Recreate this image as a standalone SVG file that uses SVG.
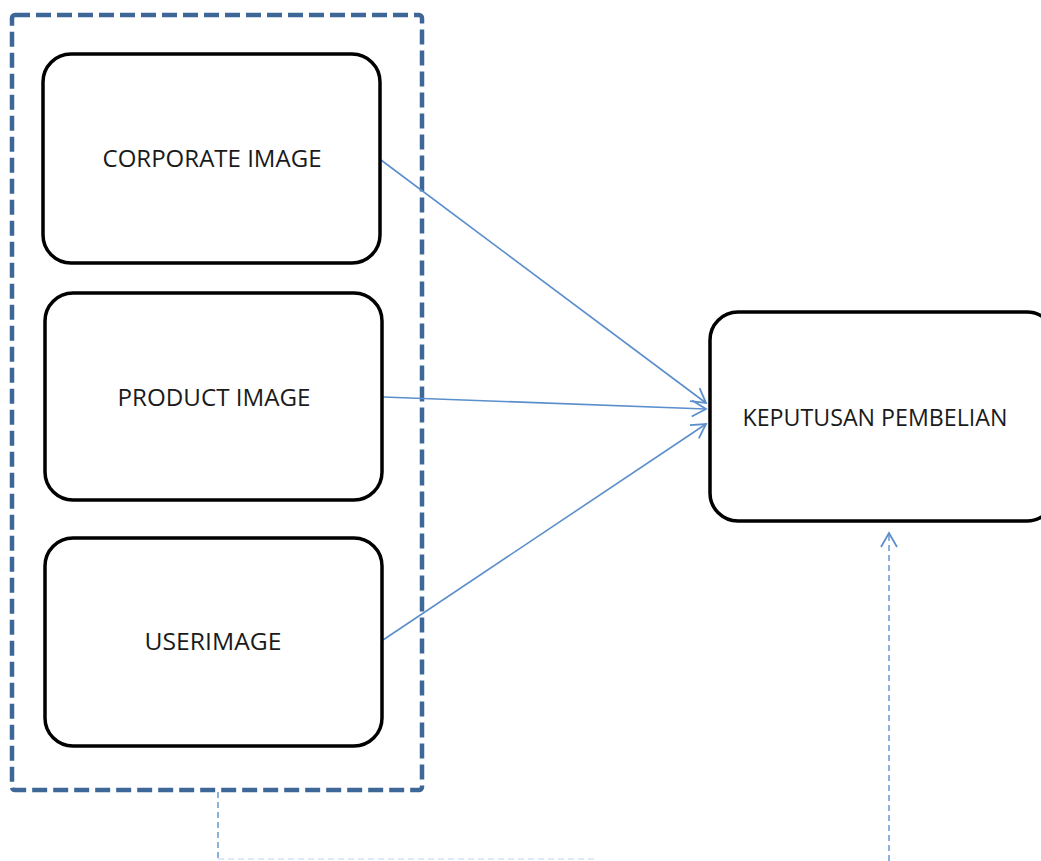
<svg xmlns="http://www.w3.org/2000/svg" width="1041" height="861" viewBox="0 0 1041 861">
  <defs>
    <style>
      .node { fill: #ffffff; stroke: #000000; stroke-width: 3.5; }
      .label { font-family: "Open Sans", "Liberation Sans", sans-serif; font-size: 23px; fill: #1a1a1a; text-anchor: middle; }
      .group { fill: none; stroke: #3d6797; stroke-width: 4.5; stroke-dasharray: 15 6; }
      .link { fill: none; stroke: #5b8fcc; stroke-width: 1.6; }
      .dotted { fill: none; stroke: #6f9fd6; stroke-width: 1.6; stroke-dasharray: 6 4; }
    </style>
    <marker id="chev" viewBox="0 0 20 20" refX="18" refY="10" markerWidth="20" markerHeight="20" markerUnits="userSpaceOnUse" orient="auto">
      <path d="M4 2 L18 10 L4 18" fill="none" stroke="#5b8fcc" stroke-width="1.8"/>
    </marker>
  </defs>
  <rect width="1041" height="861" fill="#ffffff"/>

  <!-- dashed grouping frame around the three image factors -->
  <g id="factor-group">
    <rect class="group" x="12" y="15" width="410" height="775" rx="3"/>
  </g>

  <g id="connectors">
    <line class="link" x1="381" y1="160" x2="706" y2="403" marker-end="url(#chev)"/>
    <line class="link" x1="383" y1="397" x2="706" y2="409" marker-end="url(#chev)"/>
    <line class="link" x1="383" y1="640" x2="706" y2="424" marker-end="url(#chev)"/>
    <line class="dotted" x1="218" y1="792" x2="218" y2="858"/>
    <line class="dotted" x1="218" y1="859" x2="594" y2="859" opacity="0.3"/>
    <line class="dotted" x1="889" y1="861" x2="889" y2="533" marker-end="url(#chev)"/>
  </g>

  <g id="corporate-image">
    <rect class="node" x="43" y="54" width="337" height="209" rx="28"/>
    <text class="label" x="212" y="167" textLength="219" lengthAdjust="spacingAndGlyphs">CORPORATE IMAGE</text>
  </g>
  <g id="product-image">
    <rect class="node" x="45" y="293" width="337" height="207" rx="28"/>
    <text class="label" x="214" y="406" textLength="193" lengthAdjust="spacingAndGlyphs">PRODUCT IMAGE</text>
  </g>
  <g id="user-image">
    <rect class="node" x="45" y="538" width="337" height="208" rx="28"/>
    <text class="label" x="213" y="650" textLength="137" lengthAdjust="spacingAndGlyphs">USERIMAGE</text>
  </g>
  <g id="keputusan-pembelian">
    <rect class="node" x="710" y="312" width="345" height="209" rx="28"/>
    <text class="label" x="875" y="426" textLength="265" lengthAdjust="spacingAndGlyphs">KEPUTUSAN PEMBELIAN</text>
  </g>
</svg>
